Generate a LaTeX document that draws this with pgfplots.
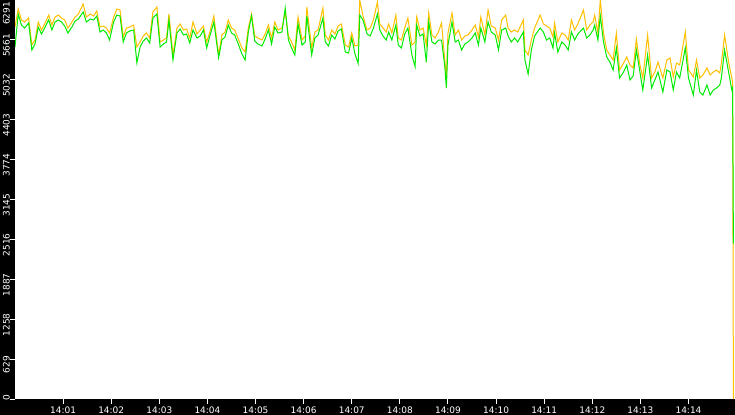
\documentclass[border=0pt]{standalone}
\usepackage{pgfplots}
\pgfplotsset{compat=1.18}
\usepackage{pgfplotstable}
\usepackage{fontspec}
\setmainfont{DejaVu Sans}

\definecolor{traceA}{RGB}{255,192,0}
\definecolor{traceB}{RGB}{0,235,0}

% t = seconds after 14:00:00, o = orange trace, g = green trace
\pgfplotstableread{
t o g
0 5865 5550
4 6149 6070
8 5976 5897
12 5944 5849
17 6007 5928
21 5581 5503
25 5660 5597
29 5944 5865
33 5818 5755
37 5913 5849
42 6054 5976
46 5897 5818
50 6023 5944
54 6054 5976
58 6007 5944
62 5976 5881
66 5849 5771
71 5944 5865
75 6023 5960
79 6070 5991
85 6228 6102
89 6023 5944
94 6070 5991
98 6039 5976
102 6118 6039
106 5865 5786
110 5881 5818
114 5849 5771
118 5771 5660
123 6023 5944
127 6149 6054
131 6133 6039
135 5708 5629
139 5849 5771
143 5865 5802
148 5897 5818
152 5550 5300
156 5629 5550
160 5723 5645
164 5771 5692
168 5692 5613
172 6102 6007
177 6181 6070
181 5629 5550
185 5660 5597
189 5692 5629
192 6070 5976
197 5424 5345
202 5849 5771
206 5913 5834
210 5818 5739
214 5834 5755
218 5692 5613
222 5944 5818
227 5755 5692
231 5818 5723
235 5881 5818
239 5629 5534
243 5786 5723
248 6039 5944
254 5424 5380
258 5739 5660
262 5786 5708
266 5976 5897
270 5849 5771
274 5818 5739
278 5692 5613
283 5534 5440
287 5471 5345
291 5849 5786
295 6070 6039
299 5723 5645
303 5692 5597
308 5660 5566
312 5755 5676
316 5897 5818
320 5692 5597
324 5944 5865
328 5818 5771
333 5849 5786
337 6100 6165
341 5723 5660
345 5629 5534
349 5503 5424
353 6023 5913
358 5660 5581
362 5723 5629
364 6181 6039
370 5534 5424
374 5786 5692
378 5818 5739
384 6165 6007
387 5739 5629
391 5660 5566
395 5818 5739
399 5755 5676
403 5881 5802
407 5913 5834
412 5581 5471
416 5550 5455
420 5771 5692
424 5566 5440
428 5581 5290
430 6291 6054
434 6039 5976
439 5818 5755
443 5849 5723
447 5976 5849
452 6259 6070
455 5913 5818
459 5849 5723
463 5786 5660
466 5913 5786
470 5771 5660
475 6054 5897
478 5692 5581
482 5660 5534
486 5849 5755
490 6007 5849
495 5581 5424
499 5629 5240
501 6023 5897
505 5818 5723
509 5849 5755
513 5581 5310
516 6086 5944
520 5739 5629
524 5692 5597
528 5786 5660
532 5928 5660
536 5345 5250
538 5077 4903
540 5771 5581
545 6086 5944
549 5739 5629
553 5818 5660
557 5660 5503
561 5723 5597
565 5739 5629
570 5818 5692
574 5897 5771
578 5708 5581
581 6023 5849
586 5739 5629
590 6133 5944
594 5881 5786
599 5849 5739
603 5660 5503
607 5976 5818
612 6054 5849
615 5849 5723
619 5786 5629
623 5818 5692
627 5786 5629
634 5976 5786
636 5503 5345
640 5424 5124
644 5660 5503
648 5849 5723
655 6054 5849
659 5913 5786
663 5881 5660
667 5849 5692
671 5708 5534
673 5928 5771
677 5629 5471
682 5771 5629
686 5739 5581
690 5660 5503
694 5976 5786
698 5818 5660
702 5913 5755
709 6133 5849
713 5818 5692
717 5897 5739
721 5944 5818
723 6054 5897
727 5771 5660
730 6291 6039
734 5771 5629
738 5503 5392
742 5424 5313
746 5345 5187
750 5771 5534
754 5187 5061
759 5297 5156
763 5392 5266
767 5266 5030
771 5219 5093
775 5676 5503
779 5297 5187
783 5061 4872
789 5739 5424
794 5061 4903
798 5156 5030
802 5313 5156
808 5061 4840
813 5345 5187
817 5376 5156
821 5077 4872
825 5297 5156
829 5266 5061
836 5786 5534
840 5187 5061
846 5077 4793
850 5345 5187
854 5061 4840
858 5108 4793
863 5219 4950
867 5108 4793
871 5156 4872
875 5187 4903
879 5140 4950
881 5297 5061
885 5739 5503
890 5313 5156
894 5061 4872
895 4998 4903
896 0 2450
}\rates

\begin{document}
\begin{tikzpicture}
\useasboundingbox (-15bp,-16bp) rectangle (720bp,399bp);
\fill[black] (-15bp,-16bp) rectangle (720bp,399bp);
\begin{axis}[
  at={(0,0)}, anchor=south west,
  scale only axis,
  width=720bp, height=399bp,
  xmin=0, xmax=898,
  ymin=0, ymax=6291,
  axis background/.style={fill=white},
  axis line style={draw=none},
  xtick={60,120,180,240,300,360,420,480,540,600,660,720,780,840},
  xticklabels={14:01,14:02,14:03,14:04,14:05,14:06,14:07,14:08,14:09,14:10,14:11,14:12,14:13,14:14},
  ytick={0,629,1258,1887,2516,3145,3774,4403,5032,5661,6291},
  % first and last label are pushed inside the strip, as in the original
  yticklabels={\hspace*{14bp}0,629,1258,1887,2516,3145,3774,4403,5032,5661,6291\hspace*{16bp}},
  xtick pos=bottom, ytick pos=left,
  tick align=outside,
  major tick length=5bp,
  tick style={white, line width=1bp},
  ticklabel style={font=\fontsize{9}{9}\selectfont, text=white},
  xticklabel style={anchor=north, inner sep=0pt, yshift=-3bp},
  yticklabel style={yshift=-5.5bp, rotate=90, anchor=south, inner sep=0pt},
  clip=true,
]
\addplot[traceA, line width=1bp] table[x=t, y=o] {\rates};
\addplot[traceB, line width=1bp] table[x=t, y=g] {\rates};
\end{axis}
\end{tikzpicture}
\end{document}
